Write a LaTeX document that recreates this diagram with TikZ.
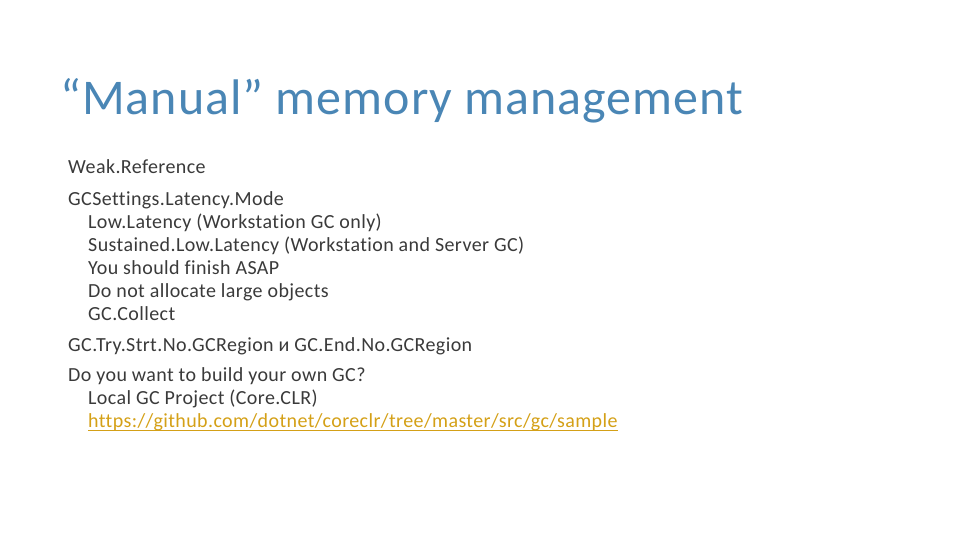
\documentclass[tikz,border=0pt]{standalone}
\usepackage{fontspec}
\setmainfont{Carlito}[Ligatures=NoCommon,LetterSpace=2]
\definecolor{titleblue}{HTML}{4A86B5}
\definecolor{bodygray}{HTML}{3A3A3A}
\definecolor{linkorange}{HTML}{D4A017}
\begin{document}
\begin{tikzpicture}[x=1pt,y=-1pt,
  body/.style={anchor=base west,inner sep=0pt,text=bodygray,font=\fontsize{20}{22}\selectfont}]
\useasboundingbox (0,0) rectangle (960,540);
\node[anchor=base west,inner sep=0pt,text=titleblue,font=\fontsize{50}{54}\selectfont] (title) at (60,115) {“Manual” memory management};
\node[body] (l1) at (68,174) {Weak.Reference};
\node[body] (l2) at (68,205) {GCSettings.Latency.Mode};
\node[body] (l3) at (88,228) {Low.Latency (Workstation GC only)};
\node[body] (l4) at (88,251) {Sustained.Low.Latency (Workstation and Server GC)};
\node[body] (l5) at (88,274) {You should finish ASAP};
\node[body] (l6) at (88,297) {Do not allocate large objects};
\node[body] (l7) at (88,320) {GC.Collect};
\node[body] (l8) at (68,351) {GC.Try.Strt.No.GCRegion и GC.End.No.GCRegion};
\node[body] (l9) at (68,381) {Do you want to build your own GC?};
\node[body] (l10) at (88,404) {Local GC Project (Core.CLR)};
\node[body,text=linkorange] (l11) at (88,427) {https://github.com/dotnet/coreclr/tree/master/src/gc/sample};
\draw[linkorange,line width=0.8pt] ([yshift=-3.5pt]l11.base west) -- ([yshift=-3.5pt]l11.base east);
\end{tikzpicture}
\end{document}
